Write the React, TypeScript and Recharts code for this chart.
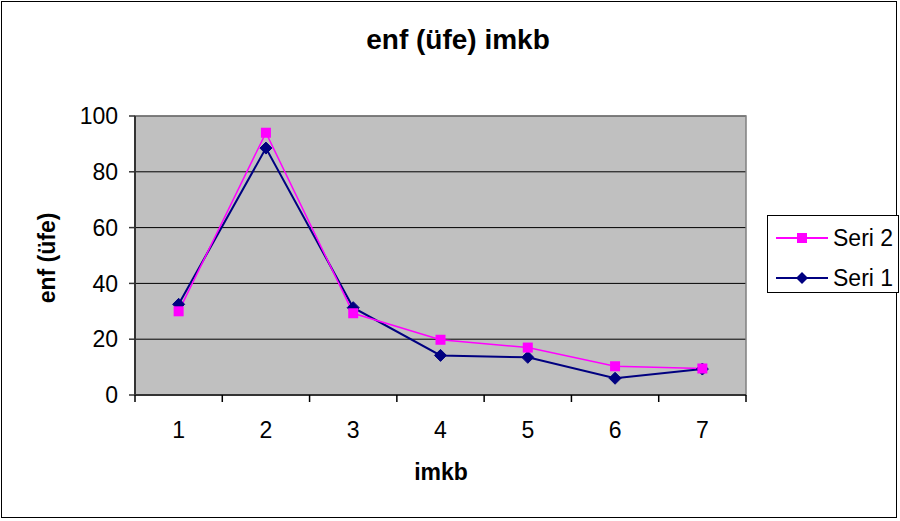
import { LineChart, Line, XAxis, YAxis, CartesianGrid, ReferenceArea } from 'recharts';

const categories = [1, 2, 3, 4, 5, 6, 7];
const seri1 = [32.5, 88.5, 31.3, 14.2, 13.5, 6, 9.3];
const seri2 = [30, 94, 29.3, 19.8, 17, 10.3, 9.5];
const yTicks = [0, 20, 40, 60, 80, 100];
const xTicks = [0.5, 1, 1.5, 2, 2.5, 3, 3.5, 4, 4.5, 5, 5.5, 6, 6.5, 7, 7.5];

const data = categories.map((c, i) => ({ x: c, s1: seri1[i], s2: seri2[i] }));

const FONT = 'Arial, "Liberation Sans", sans-serif';
const NAVY = '#000080';
const PINK = '#ff00ff';

function Diamond({ cx, cy, r = 6 }: any) {
  if (cx == null || cy == null) return null;
  return (
    <polygon
      points={`${cx},${cy - r} ${cx + r},${cy} ${cx},${cy + r} ${cx - r},${cy}`}
      fill={NAVY}
      stroke={NAVY}
    />
  );
}

function Square({ cx, cy, s = 10 }: any) {
  if (cx == null || cy == null) return null;
  return <rect x={cx - s / 2} y={cy - s / 2} width={s} height={s} fill={PINK} />;
}

// labels on whole numbers, tick marks between categories (excel style)
function XTick({ x, y, payload }: any) {
  const v = payload.value;
  if (v % 1 !== 0) {
    return <line x1={x} x2={x} y1={y} y2={y + 7} stroke="#000" strokeWidth={1.5} />;
  }
  return (
    <text x={x} y={y + 43} textAnchor="middle" fontSize={23} fill="#000" fontFamily={FONT}>
      {v}
    </text>
  );
}

function LegendBox() {
  const rows = [
    { name: 'Seri 2', color: PINK, mark: 'square' },
    { name: 'Seri 1', color: NAVY, mark: 'diamond' },
  ];
  return (
    <div
      style={{
        position: 'absolute',
        left: 767,
        top: 215,
        width: 132,
        height: 78,
        boxSizing: 'border-box',
        border: '1px solid #000',
        background: '#fff',
        fontFamily: FONT,
        fontSize: 23,
      }}
    >
      {rows.map((r, i) => (
        <div key={r.name} style={{ position: 'absolute', left: 0, top: 9 + i * 40, height: 26, display: 'flex', alignItems: 'center' }}>
          <svg width={64} height={26} style={{ display: 'block' }}>
            <line x1={8} x2={60} y1={13} y2={13} stroke={r.color} strokeWidth={2} />
            {r.mark === 'square' ? (
              <rect x={29} y={8} width={10} height={10} fill={r.color} />
            ) : (
              <polygon points="34,7 40,13 34,19 28,13" fill={r.color} />
            )}
          </svg>
          <span style={{ marginLeft: 1, color: '#000', lineHeight: '26px' }}>{r.name}</span>
        </div>
      ))}
    </div>
  );
}

export default function App() {
  return (
    <div style={{ position: 'absolute', left: 0, top: 0, width: 900, height: 521, background: '#fff', fontFamily: FONT }}>
      <div
        style={{
          position: 'absolute',
          left: 1,
          top: 1,
          width: 896,
          height: 517,
          boxSizing: 'border-box',
          border: '1px solid #000',
        }}
      />
      <div
        style={{
          position: 'absolute',
          left: 458,
          top: 24,
          transform: 'translateX(-50%)',
          fontSize: 28,
          fontWeight: 700,
          whiteSpace: 'nowrap',
        }}
      >
        enf (üfe) imkb
      </div>
      <div
        style={{
          position: 'absolute',
          left: 47,
          top: 258,
          transform: 'translate(-50%, -50%) rotate(-90deg)',
          fontSize: 23,
          fontWeight: 700,
          whiteSpace: 'nowrap',
        }}
      >
        enf (üfe)
      </div>
      <div
        style={{
          position: 'absolute',
          left: 441,
          top: 459,
          transform: 'translateX(-50%)',
          fontSize: 23,
          fontWeight: 700,
          whiteSpace: 'nowrap',
        }}
      >
        imkb
      </div>
      <div style={{ position: 'absolute', left: 0, top: 0 }}>
        <LineChart width={900} height={521} data={data} margin={{ top: 116, right: 154, bottom: 66, left: 0 }}>
          <CartesianGrid vertical={false} fill="#c0c0c0" stroke="#000" strokeWidth={1} fillOpacity={1} />
          <ReferenceArea x1={0.5} x2={7.5} y1={0} y2={100} fill="none" stroke="#808080" strokeWidth={1.5} ifOverflow="visible" />
          <XAxis
            dataKey="x"
            type="number"
            domain={[0.5, 7.5]}
            ticks={xTicks}
            interval={0}
            height={60}
            tickLine={false}
            tickSize={0}
            tickMargin={0}
            tick={<XTick />}
            axisLine={{ stroke: '#333', strokeWidth: 2 }}
          />
          <YAxis
            domain={[0, 100]}
            ticks={yTicks}
            width={135}
            tickSize={6}
            tickMargin={11}
            tick={{ fontSize: 23, fill: '#000', fontFamily: FONT }}
            tickLine={{ stroke: '#333', strokeWidth: 1.5 }}
            axisLine={{ stroke: '#333', strokeWidth: 2 }}
          />
          <Line
            dataKey="s1"
            name="Seri 1"
            stroke={NAVY}
            strokeWidth={2}
            dot={(p: any) => <Diamond key={`d1-${p.index}`} cx={p.cx} cy={p.cy} />}
            isAnimationActive={false}
          />
          <Line
            dataKey="s2"
            name="Seri 2"
            stroke={PINK}
            strokeWidth={1.5}
            dot={(p: any) => <Square key={`d2-${p.index}`} cx={p.cx} cy={p.cy} />}
            isAnimationActive={false}
          />
        </LineChart>
      </div>
      <LegendBox />
    </div>
  );
}
